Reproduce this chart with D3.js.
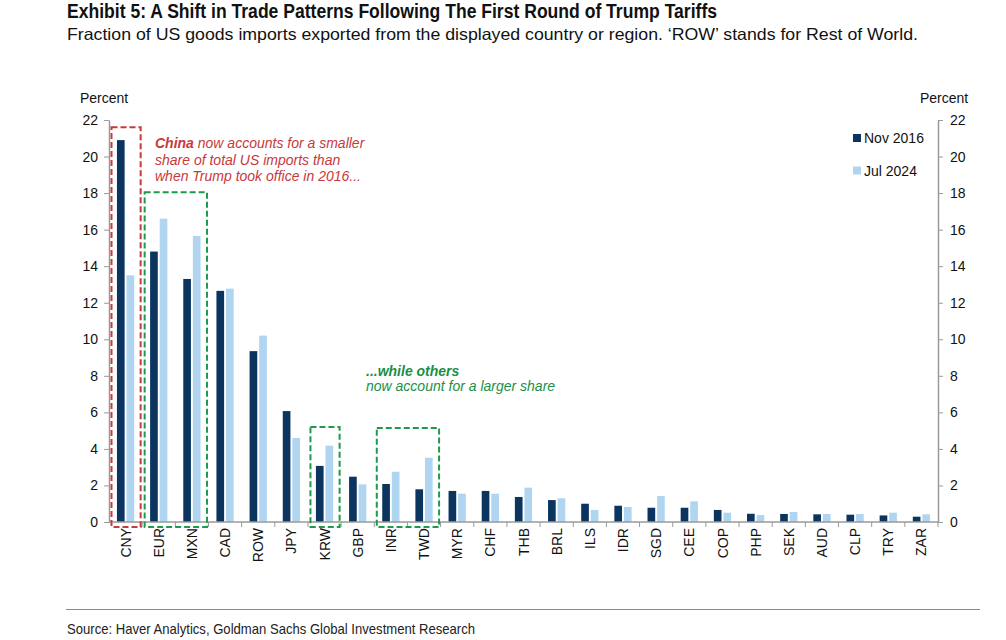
<!DOCTYPE html>
<html>
<head>
<meta charset="utf-8">
<script src="https://cdn.jsdelivr.net/npm/d3@7/dist/d3.min.js"></script>
<style>
  html, body { margin: 0; padding: 0; background: #fff; }
  svg { display: block; }
  text { font-family: "Liberation Sans", Arial, sans-serif; }
</style>
</head>
<body>
<svg id="chart" width="1006" height="640"></svg>
<script>
const categories = ["CNY","EUR","MXN","CAD","ROW","JPY","KRW","GBP","INR","TWD","MYR","CHF","THB","BRL","ILS","IDR","SGD","CEE","COP","PHP","SEK","AUD","CLP","TRY","ZAR"];
const nov2016 = [20.9,14.8,13.3,12.65,9.35,6.07,3.07,2.48,2.08,1.79,1.7,1.7,1.37,1.2,1.0,0.89,0.78,0.78,0.66,0.45,0.44,0.42,0.4,0.36,0.29];
const jul2024 = [13.5,16.6,15.65,12.77,10.2,4.6,4.18,2.06,2.75,3.52,1.55,1.55,1.88,1.3,0.66,0.82,1.42,1.13,0.51,0.38,0.55,0.44,0.44,0.51,0.42];
const seriesNames = ["Nov 2016","Jul 2024"];
const yTicks = [0,2,4,6,8,10,12,14,16,18,20,22];
const boxes = [
  {from:"CNY", to:"CNY", top:21.6, color:"#c8393c"},
  {from:"EUR", to:"MXN", top:18.05, color:"#1e9a4c"},
  {from:"KRW", to:"KRW", top:5.2, color:"#1e9a4c"},
  {from:"INR", to:"TWD", top:5.15, color:"#1e9a4c"}
];

(function(){
const colors = {"Nov 2016":"#0b355f","Jul 2024":"#b0d5f1"};
const pL = 109, pR = 938, pT = 120, pB = 522;
const svg = d3.select("#chart");

const y = d3.scaleLinear().domain([0,22]).range([pB, pT]);
const xo = d3.scaleBand().domain(categories).range([pL, pR]).padding(0);
const xg = d3.scaleBand().domain(seriesNames)
  .range([xo.bandwidth()*0.24, xo.bandwidth()*0.76]).paddingInner(0.2);

const axisColor = "#9a9a9a";

const narrow = '"Liberation Sans Narrow", "Roboto Condensed", "Arial Narrow", "Liberation Sans", sans-serif';
svg.append("text").attr("x",67).attr("y",17.5)
  .attr("font-family",narrow).attr("font-weight","bold").attr("font-size",19.5)
  .attr("fill","#111").attr("textLength",650).attr("lengthAdjust","spacingAndGlyphs")
  .text("Exhibit 5: A Shift in Trade Patterns Following The First Round of Trump Tariffs");
svg.append("text").attr("x",67).attr("y",39.5)
  .attr("font-family",narrow).attr("font-size",16.5)
  .attr("fill","#111").attr("textLength",851).attr("lengthAdjust","spacingAndGlyphs")
  .text("Fraction of US goods imports exported from the displayed country or region. \u2018ROW\u2019 stands for Rest of World.");

// Bars
const groups = svg.append("g").selectAll("g").data(categories).join("g")
  .attr("transform", d => `translate(${xo(d)},0)`);
groups.selectAll("rect")
  .data((d,i) => seriesNames.map((s,j) => ({s, v: j===0 ? nov2016[i] : jul2024[i]})))
  .join("rect")
  .attr("x", d => xg(d.s))
  .attr("width", xg.bandwidth())
  .attr("y", d => y(d.v))
  .attr("height", d => y(0) - y(d.v))
  .attr("fill", d => colors[d.s]);

// Y axes
const yl = svg.append("g").attr("transform",`translate(${pL},0)`)
  .call(d3.axisLeft(y).tickValues(yTicks).tickSize(5).tickPadding(6).tickSizeOuter(0));
const yr = svg.append("g").attr("transform",`translate(${pR},0)`)
  .call(d3.axisRight(y).tickValues(yTicks).tickSize(5).tickPadding(7).tickSizeOuter(0));
[yl, yr].forEach(g => {
  g.select(".domain").attr("stroke",axisColor).attr("stroke-width",1.5);
  g.selectAll(".tick line").attr("stroke",axisColor);
  g.selectAll(".tick text").attr("font-size",14).attr("fill","#111")
    .attr("font-family",'"Liberation Sans", Arial, sans-serif');
});

// X axis
svg.append("line").attr("x1",pL).attr("x2",pR).attr("y1",y(0)).attr("y2",y(0))
  .attr("stroke",axisColor).attr("stroke-width",1.5);
svg.append("g").selectAll("line").data(categories.slice(1).concat(["__end"])).join("line")
  .attr("x1", d => d === "__end" ? pR : xo(d))
  .attr("x2", d => d === "__end" ? pR : xo(d))
  .attr("y1", y(0)).attr("y2", y(0)+5)
  .attr("stroke", axisColor);
const xAxis = svg.append("g").attr("transform",`translate(0,${y(0)})`)
  .call(d3.axisBottom(xo).tickSize(0).tickPadding(0));
xAxis.select(".domain").remove();
xAxis.selectAll(".tick text")
  .attr("font-size",14).attr("fill","#111")
  .attr("font-family",'"Liberation Sans", Arial, sans-serif')
  .attr("text-anchor","end")
  .attr("transform","rotate(-90)")
  .attr("x",-6).attr("y",0).attr("dy","0.36em");

// Percent labels
svg.append("text").attr("x",80).attr("y",103).attr("font-size",14).attr("fill","#111").text("Percent");
svg.append("text").attr("x",920).attr("y",103).attr("font-size",14).attr("fill","#111").text("Percent");

// Dashed boxes
svg.append("g").selectAll("rect").data(boxes).join("rect")
  .attr("x", d => xo(d.from) + 2.5)
  .attr("width", d => xo(d.to) + xo.bandwidth() - xo(d.from) - 4)
  .attr("y", d => y(d.top))
  .attr("height", d => y(0) + 5 - y(d.top))
  .attr("fill","none").attr("stroke", d => d.color)
  .attr("stroke-width",2).attr("stroke-dasharray","6,3");

// Annotations
const red = "#c8393c", green = "#1a8f47";
const a1 = svg.append("text").attr("font-size",14).attr("font-style","italic").attr("fill",red);
a1.append("tspan").attr("x",155).attr("y",148).attr("font-weight","bold").text("China");
a1.append("tspan").text(" now accounts for a smaller");
a1.append("tspan").attr("x",155).attr("y",164.5).text("share of total US imports than");
a1.append("tspan").attr("x",155).attr("y",181).text("when Trump took office in 2016...");
const a2 = svg.append("text").attr("font-size",14).attr("font-style","italic").attr("fill",green);
a2.append("tspan").attr("x",366).attr("y",375.5).attr("font-weight","bold").text("...while others");
a2.append("tspan").attr("x",366).attr("y",391).text("now account for a larger share");

// Legend
const leg = svg.append("g").selectAll("g").data(seriesNames).join("g")
  .attr("transform",(d,i) => `translate(853,${134 + i*32.5})`);
leg.append("rect").attr("width",8).attr("height",8).attr("fill", d => colors[d]);
leg.append("text").attr("x",11).attr("y",9).attr("font-size",14).attr("fill","#111").text(d => d);

// Footer
svg.append("line").attr("x1",66).attr("x2",980).attr("y1",609.5).attr("y2",609.5)
  .attr("stroke","#8a8a8a").attr("stroke-width",1);
svg.append("text").attr("x",67).attr("y",633.5)
  .attr("font-family",narrow).attr("font-size",14.5).attr("fill","#222")
  .attr("textLength",408).attr("lengthAdjust","spacingAndGlyphs")
  .text("Source: Haver Analytics, Goldman Sachs Global Investment Research");
})();
</script>
</body>
</html>
